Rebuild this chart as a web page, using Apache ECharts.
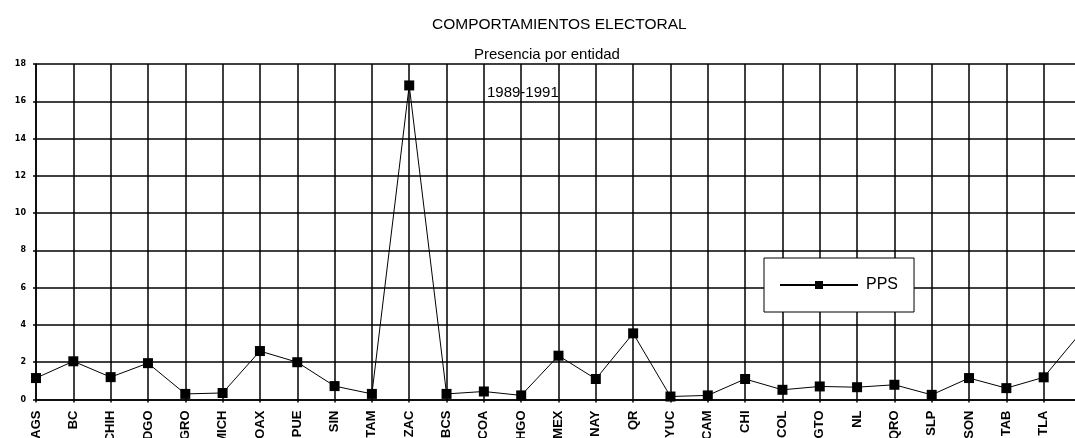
<!DOCTYPE html>
<html>
<head>
<meta charset="utf-8">
<script src="https://cdn.jsdelivr.net/npm/echarts@6/dist/echarts.min.js"></script>
<style>
html,body{margin:0;padding:0;background:#fff;}
#chart{width:1075px;height:438px;}
</style>
</head>
<body>
<div id="chart"></div>
<script>
const categories = ["AGS","BC","CHIH","DGO","GRO","MICH","OAX","PUE","SIN","TAM","ZAC","BCS","COA","HGO","MEX","NAY","QR","YUC","CAM","CHI","COL","GTO","NL","QRO","SLP","SON","TAB","TLA","VER"];
const ppsValues = [1.15,2.05,1.2,1.95,0.3,0.35,2.6,2.0,0.72,0.3,16.85,0.3,0.43,0.22,2.35,1.1,3.55,0.16,0.22,1.1,0.52,0.7,0.66,0.79,0.25,1.15,0.61,1.19,3.6];
const yTicks = {min:0, max:18, interval:2};
const titleText = "COMPORTAMIENTOS ELECTORAL";
const subtitleText = "Presencia por entidad";
const periodText = "1989-1991";
const seriesName = "PPS";

const chart = echarts.init(document.getElementById('chart'), null, {renderer:'canvas'});
chart.setOption({
  backgroundColor:'#fff',
  animation:false,
  title:[
    {text:titleText, left:427, top:12, textStyle:{fontFamily:'Liberation Sans, Arial', fontSize:15.5, fontWeight:'normal', color:'#000'}},
    {text:subtitleText, left:469, top:42, textStyle:{fontFamily:'Liberation Sans, Arial', fontSize:15, fontWeight:'normal', color:'#000'}}
  ],
  graphic:[
    {type:'text', left:487, top:85, style:{text:periodText, font:'15px "Liberation Sans", Arial', fill:'#000'}}
  ],
  legend:{
    data:[seriesName],
    left:764, top:258,
    orient:'horizontal',
    backgroundColor:'#fff',
    borderColor:'#000', borderWidth:1,
    padding:[19,16,19,15],
    itemWidth:78, itemHeight:10,
    textStyle:{fontFamily:'Liberation Sans, Arial', fontSize:16, color:'#000', padding:[0,0,0,3]}
  },
  grid:{left:36, width:1045, top:64, bottom:38.5, containLabel:false, outerBoundsMode:'none'},
  xAxis:{
    type:'category', data:categories, boundaryGap:false,
    axisLine:{show:true, lineStyle:{color:'#000', width:1.5}},
    axisTick:{show:true, length:3, alignWithLabel:true, lineStyle:{color:'#000', width:1.5}},
    axisLabel:{rotate:90, interval:0, margin:11, fontFamily:'Liberation Sans Narrow, Liberation Sans, Arial', fontWeight:'bold', fontSize:13, color:'#000'},
    splitLine:{show:true, lineStyle:{color:'#000', width:1.5}}
  },
  yAxis:{
    type:'value', min:yTicks.min, max:yTicks.max, interval:yTicks.interval,
    axisLine:{show:true, lineStyle:{color:'#000', width:1.5}},
    axisTick:{show:true, length:3, lineStyle:{color:'#000', width:1.5}},
    axisLabel:{margin:10, fontFamily:'DejaVu Sans, Arial', fontWeight:'bold', fontSize:8, color:'#000'},
    splitLine:{show:true, lineStyle:{color:'#000', width:1.5}}
  },
  series:[{
    name:seriesName, type:'line', data:ppsValues,
    symbol:'rect', symbolSize:10, showAllSymbol:true,
    lineStyle:{color:'#000', width:1},
    itemStyle:{color:'#000'},
    clip:false
  }]
});
</script>
</body>
</html>
